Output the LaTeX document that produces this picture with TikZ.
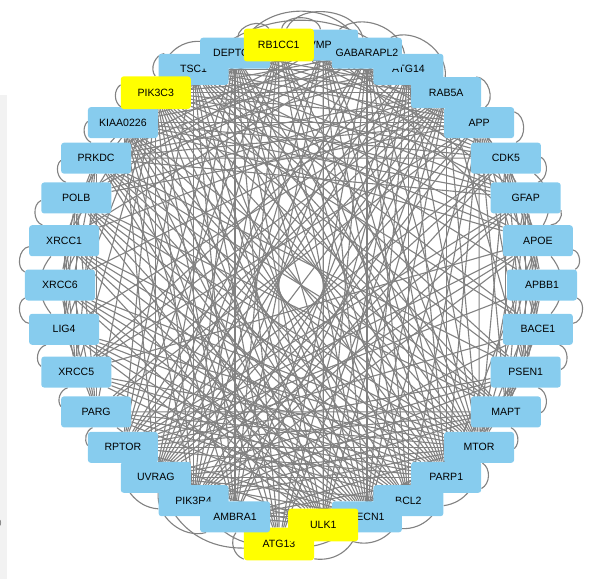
\documentclass[tikz,border=0pt]{standalone}
\usepackage{fontspec}
\newfontfamily\genefont{Liberation Sans}
\definecolor{geneblue}{RGB}{135,204,238}
\definecolor{hubyellow}{RGB}{255,255,0}
\definecolor{linkgrey}{RGB}{130,130,130}
\definecolor{stripgrey}{RGB}{242,242,242}
\pgfdeclarelayer{bg}
\pgfsetlayers{bg,main}
\tikzset{
  gene/.style={fill=geneblue,rounded corners=2.5pt,minimum width=2.1cm,minimum height=0.93cm,inner sep=1pt,font=\genefont\fontsize{9}{10}\selectfont},
  hub/.style={gene,fill=hubyellow,minimum height=0.98cm},
  link/.style={draw=linkgrey,line width=0.95pt},
}

\begin{document}
\begin{tikzpicture}[x=0.03cm,y=0.03cm]
  \useasboundingbox (-301,-294) rectangle (295,285);
  \fill[stripgrey] (-301,-294) rectangle (-294,190);
  \node[text=black!55,font=\genefont\fontsize{8}{8}\selectfont] at (-302,-238) (tick) {0};

  % ATG13 sits a little below the ring
  \node[hub] at (-22,-259) (ATG13) {ATG13};
  \foreach \i/\lab/\sty in {0/APBB1/gene,1/APOE/gene,2/GFAP/gene,3/CDK5/gene,4/APP/gene,5/RAB5A/gene,6/ATG14/gene,8/VMP1/gene,7/GABARAPL2/gene,11/TSC1/gene,10/DEPTOR/gene,9/RB1CC1/hub,13/KIAA0226/gene,12/PIK3C3/hub,14/PRKDC/gene,15/POLB/gene,16/XRCC1/gene,17/XRCC6/gene,18/LIG4/gene,19/XRCC5/gene,20/PARG/gene,21/RPTOR/gene,22/UVRAG/gene,23/PIK3R4/gene,24/AMBRA1/gene,33/BACE1/gene,32/PSEN1/gene,31/MAPT/gene,30/MTOR/gene,28/BCL2/gene,29/PARP1/gene,27/BECN1/gene,26/ULK1/hub} {
    \node[\sty] at ({\i*360/34}:241) (\lab) {\lab};
  }

  \begin{pgfonlayer}{bg}
  % straight interactions
  \foreach \s/\tl in {
    MTOR/{RPTOR,DEPTOR,TSC1,ULK1,ATG13,RB1CC1,BECN1,PIK3C3,ATG14,UVRAG,AMBRA1,PIK3R4,KIAA0226,GABARAPL2,BCL2,RAB5A,VMP1,PRKDC,APP,PSEN1,APOE,CDK5,GFAP,XRCC5,XRCC6,PARG,LIG4,POLB,XRCC1,APBB1,BACE1},
    RPTOR/{DEPTOR,TSC1,ULK1,ATG13,RB1CC1,BECN1,PIK3C3,GABARAPL2,PSEN1,MAPT,GFAP,CDK5,APOE,BACE1,APBB1,RAB5A,ATG14,PARP1},
    UVRAG/{BECN1,PIK3C3,ATG14,KIAA0226,RAB5A,BCL2,ULK1,RB1CC1,GABARAPL2,VMP1,APP,CDK5,GFAP,APOE,PSEN1,MAPT,PARP1,DEPTOR},
    BECN1/{PIK3C3,PIK3R4,ATG14,KIAA0226,AMBRA1,RB1CC1,VMP1,GABARAPL2,RAB5A,TSC1,DEPTOR,APP,PRKDC,XRCC5,XRCC6,LIG4,XRCC1,POLB,PARG},
    ULK1/{AMBRA1,ATG14,PIK3C3,PIK3R4,GABARAPL2,TSC1,DEPTOR,VMP1,RAB5A,KIAA0226,PARP1,PRKDC,XRCC6,XRCC1,POLB,LIG4},
    ATG13/{RB1CC1,ATG14,PIK3C3,GABARAPL2,TSC1,DEPTOR,PIK3R4,KIAA0226,RAB5A},
    AMBRA1/{PIK3C3,ATG14,RB1CC1,BCL2,DEPTOR,TSC1,VMP1,KIAA0226,RAB5A,PARP1,PARG},
    PIK3R4/{PIK3C3,KIAA0226,RAB5A,RB1CC1,GABARAPL2,VMP1,TSC1,DEPTOR,APP,MAPT,CDK5,GFAP,PSEN1,APOE,BACE1},
    BCL2/{PIK3C3,ATG14,RB1CC1,GABARAPL2,VMP1,DEPTOR,KIAA0226,PRKDC,XRCC5,XRCC6,POLB,XRCC1,LIG4,PARG,APP,MAPT,PSEN1},
    PARP1/{PRKDC,XRCC5,XRCC6,XRCC1,LIG4,POLB,PARG,APP,PSEN1,APOE,TSC1,DEPTOR,PIK3C3,ATG14,RB1CC1,GABARAPL2,VMP1,KIAA0226,RAB5A},
    PIK3C3/{ATG14,RAB5A,RB1CC1,GABARAPL2,VMP1,PRKDC,POLB,XRCC1,XRCC6,LIG4,XRCC5,PARG,APP,MAPT,CDK5,GFAP,APOE,PSEN1,BACE1},
    TSC1/{RB1CC1,GABARAPL2,ATG14,RAB5A,APP,CDK5,GFAP,APOE,APBB1,MAPT,PSEN1,BACE1},
    DEPTOR/{VMP1,GABARAPL2,ATG14,RAB5A,APP,CDK5,GFAP},
    RB1CC1/{ATG14,RAB5A,KIAA0226,APP,CDK5},
    GABARAPL2/{RAB5A,KIAA0226,PRKDC,POLB,XRCC1,APP},
    ATG14/{KIAA0226,PRKDC,XRCC5},
    KIAA0226/{APP,CDK5,GFAP,APOE,MAPT},
    VMP1/{APP,CDK5,GFAP,APOE,PRKDC,POLB},
    RAB5A/{PRKDC,POLB,XRCC1,XRCC6,LIG4,XRCC5,PARG,CDK5,PSEN1},
    APP/{GFAP,APOE,APBB1,BACE1,PSEN1,MAPT,PRKDC,PARG,XRCC5,POLB},
    CDK5/{APOE,APBB1,BACE1,PSEN1,MAPT,PRKDC},
    GFAP/{APBB1,BACE1,PSEN1,MAPT,PRKDC},
    APOE/{PSEN1,MAPT,XRCC5},
    APBB1/{PSEN1,MAPT},
    BACE1/{MAPT},
    MAPT/{PRKDC,PARG,POLB},
    PRKDC/{XRCC1,XRCC6,LIG4,XRCC5,PARG,PSEN1},
    POLB/{XRCC6,LIG4,XRCC5,PARG},
    XRCC1/{LIG4,XRCC5,PARG},
    XRCC6/{XRCC5,PARG},
    LIG4/{PARG}} {
    \foreach \t in \tl
      \draw[link] (\s) -- (\t);
  }
  % parallel interactions, bent outwards
  \foreach \a/\b/\bn in {TSC1/ATG14/40,DEPTOR/GABARAPL2/55,RB1CC1/VMP1/80,DEPTOR/RB1CC1/70,VMP1/ATG14/60,RB1CC1/GABARAPL2/70,PIK3C3/DEPTOR/45,GABARAPL2/RAB5A/60,
    RAB5A/APP/70,APP/CDK5/70,CDK5/GFAP/65,GFAP/APOE/55,APOE/APBB1/70,APBB1/BACE1/75,BACE1/PSEN1/70,PSEN1/MAPT/65,APOE/BACE1/40,CDK5/APOE/40,
    MAPT/MTOR/55,MTOR/PARP1/60,MTOR/BCL2/45,PARP1/BECN1/45,BCL2/ULK1/45,
    BECN1/ATG13/40,ULK1/AMBRA1/45,BECN1/AMBRA1/35,BCL2/PIK3R4/30,ATG13/AMBRA1/55,ULK1/PIK3R4/35,AMBRA1/UVRAG/55,PIK3R4/RPTOR/50,ATG13/UVRAG/35,
    RPTOR/PARG/50,PARG/XRCC5/55,XRCC5/LIG4/65,LIG4/XRCC6/75,XRCC6/XRCC1/75,XRCC1/POLB/70,LIG4/XRCC1/40,POLB/PRKDC/60,
    PRKDC/KIAA0226/55,KIAA0226/PIK3C3/55,PIK3C3/TSC1/60} {
    \draw[link] (\a) to[bend left=\bn] (\b);
  }
  \end{pgfonlayer}
\end{tikzpicture}
\end{document}
